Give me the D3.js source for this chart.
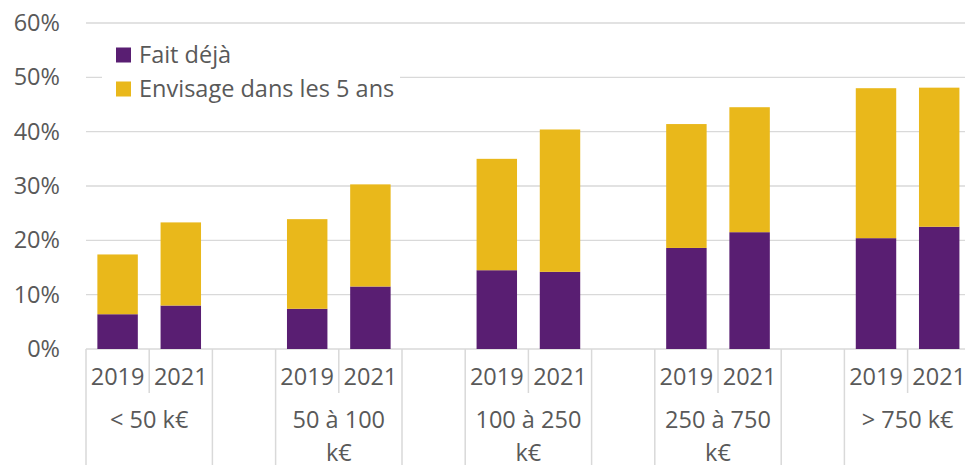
<!DOCTYPE html>
<html>
<head>
<meta charset="utf-8">
<script src="https://cdn.jsdelivr.net/npm/d3@7"></script>
<style>
  body { margin: 0; background: #fff; }
  svg { display: block; font-family: "Open Sans", sans-serif; }
</style>
</head>
<body>
<div id="chart"></div>
<script>
// ------------------------------------------------------------
// Data
// ------------------------------------------------------------
const groups = [["< 50 k€"], ["50 à 100", "k€"], ["100 à 250", "k€"], ["250 à 750", "k€"], ["> 750 k€"]];
const years = ["2019", "2021"];
const faitDeja = [[6.4, 8.0], [7.4, 11.5], [14.5, 14.2], [18.6, 21.5], [20.4, 22.5]];
const envisage = [[11.0, 15.3], [16.5, 18.8], [20.5, 26.2], [22.8, 23.0], [27.6, 25.6]];
const seriesNames = ["Fait déjà", "Envisage dans les 5 ans"];
const yTicks = [0, 10, 20, 30, 40, 50, 60];

const colors = { fait: "#591E72", env: "#E9B81B" };
const textColor = "#595959";
const gridColor = "#D9D9D9";
const fontSize = 23.5;

// ------------------------------------------------------------
// Layout
// ------------------------------------------------------------
const width = 965, height = 465;
const plot = { left: 86, top: 23, bottom: 349 };
const step = 63.2;

// each group = 2019, 2021 and an empty slot
const slots = [];
groups.forEach((g, gi) => {
  years.forEach(y => slots.push(`g${gi}-${y}`));
  slots.push(`g${gi}-gap`);
});

const xSlot = d3.scaleBand()
  .domain(slots)
  .range([plot.left, plot.left + slots.length * step]);

const xBar = d3.scaleBand()
  .domain(slots)
  .range([plot.left, plot.left + slots.length * step])
  .paddingInner(0.36)
  .paddingOuter(0.18);

const y = d3.scaleLinear()
  .domain([0, 60])
  .range([plot.bottom, plot.top]);

const svg = d3.select("#chart").append("svg")
  .attr("width", width)
  .attr("height", height);

// Gridlines
svg.append("g")
  .selectAll("line")
  .data(yTicks)
  .join("line")
  .attr("x1", plot.left)
  .attr("x2", width)
  .attr("y1", d => y(d))
  .attr("y2", d => y(d))
  .attr("stroke", gridColor)
  .attr("stroke-width", 1.3);

// Y axis labels
const yAxis = svg.append("g")
  .attr("transform", `translate(${plot.left - 26},0)`)
  .call(d3.axisLeft(y).tickValues(yTicks).tickSize(0).tickFormat(d => d + "%"));
yAxis.select(".domain").remove();
yAxis.selectAll("text")
  .attr("x", 0)
  .attr("fill", textColor)
  .attr("font-size", fontSize)
  .attr("font-family", "Open Sans, sans-serif");

// Bars
const rows = [];
groups.forEach((g, gi) => {
  years.forEach((yr, yi) => {
    rows.push({ slot: `g${gi}-${yr}`, fait: faitDeja[gi][yi], env: envisage[gi][yi] });
  });
});

svg.append("g")
  .selectAll("rect")
  .data(rows)
  .join("rect")
  .attr("x", d => xBar(d.slot))
  .attr("width", xBar.bandwidth())
  .attr("y", d => y(d.fait))
  .attr("height", d => y(0) - y(d.fait))
  .attr("fill", colors.fait);

svg.append("g")
  .selectAll("rect")
  .data(rows)
  .join("rect")
  .attr("x", d => xBar(d.slot))
  .attr("width", xBar.bandwidth())
  .attr("y", d => y(d.fait + d.env))
  .attr("height", d => y(d.fait) - y(d.fait + d.env))
  .attr("fill", colors.env);

// ------------------------------------------------------------
// Multi-level category axis
// ------------------------------------------------------------
const axisG = svg.append("g");
const yearRow = 393;

// separators: short between years, long elsewhere
const seps = slots.map(s => ({ x: xSlot(s), short: s.endsWith("2021") }));
seps.push({ x: xSlot(slots[slots.length - 1]) + step, short: false });

axisG.selectAll("line.sep")
  .data(seps)
  .join("line")
  .attr("class", "sep")
  .attr("x1", d => d.x)
  .attr("x2", d => d.x)
  .attr("y1", plot.bottom)
  .attr("y2", d => d.short ? yearRow : height)
  .attr("stroke", gridColor)
  .attr("stroke-width", 1.5);

axisG.selectAll("text.year")
  .data(rows)
  .join("text")
  .attr("class", "year")
  .attr("x", d => xSlot(d.slot) + step / 2)
  .attr("y", 377)
  .attr("dy", "0.35em")
  .attr("text-anchor", "middle")
  .attr("font-size", fontSize)
  .attr("fill", textColor)
  .text(d => d.slot.split("-")[1]);

groups.forEach((lines, gi) => {
  const cx = xSlot(`g${gi}-2019`) + step;
  const t = axisG.append("text")
    .attr("text-anchor", "middle")
    .attr("font-size", fontSize)
    .attr("fill", textColor);
  lines.forEach((ln, li) => {
    t.append("tspan")
      .attr("x", cx)
      .attr("y", 420 + li * 33)
      .attr("dy", "0.35em")
      .text(ln);
  });
});

// ------------------------------------------------------------
// Legend
// ------------------------------------------------------------
const legend = svg.append("g");
legend.append("rect")
  .attr("x", 102)
  .attr("y", 38)
  .attr("width", 298)
  .attr("height", 68)
  .attr("fill", "#fff");

const legendItems = [
  { name: seriesNames[0], color: colors.fait },
  { name: seriesNames[1], color: colors.env }
];

legendItems.forEach((d, i) => {
  const cy = 55 + i * 34;
  legend.append("rect")
    .attr("x", 116)
    .attr("y", cy - 7.5)
    .attr("width", 15)
    .attr("height", 15)
    .attr("fill", d.color);
  legend.append("text")
    .attr("x", 139)
    .attr("y", cy)
    .attr("dy", "0.35em")
    .attr("font-size", fontSize)
    .attr("fill", textColor)
    .text(d.name);
});
</script>
</body>
</html>
